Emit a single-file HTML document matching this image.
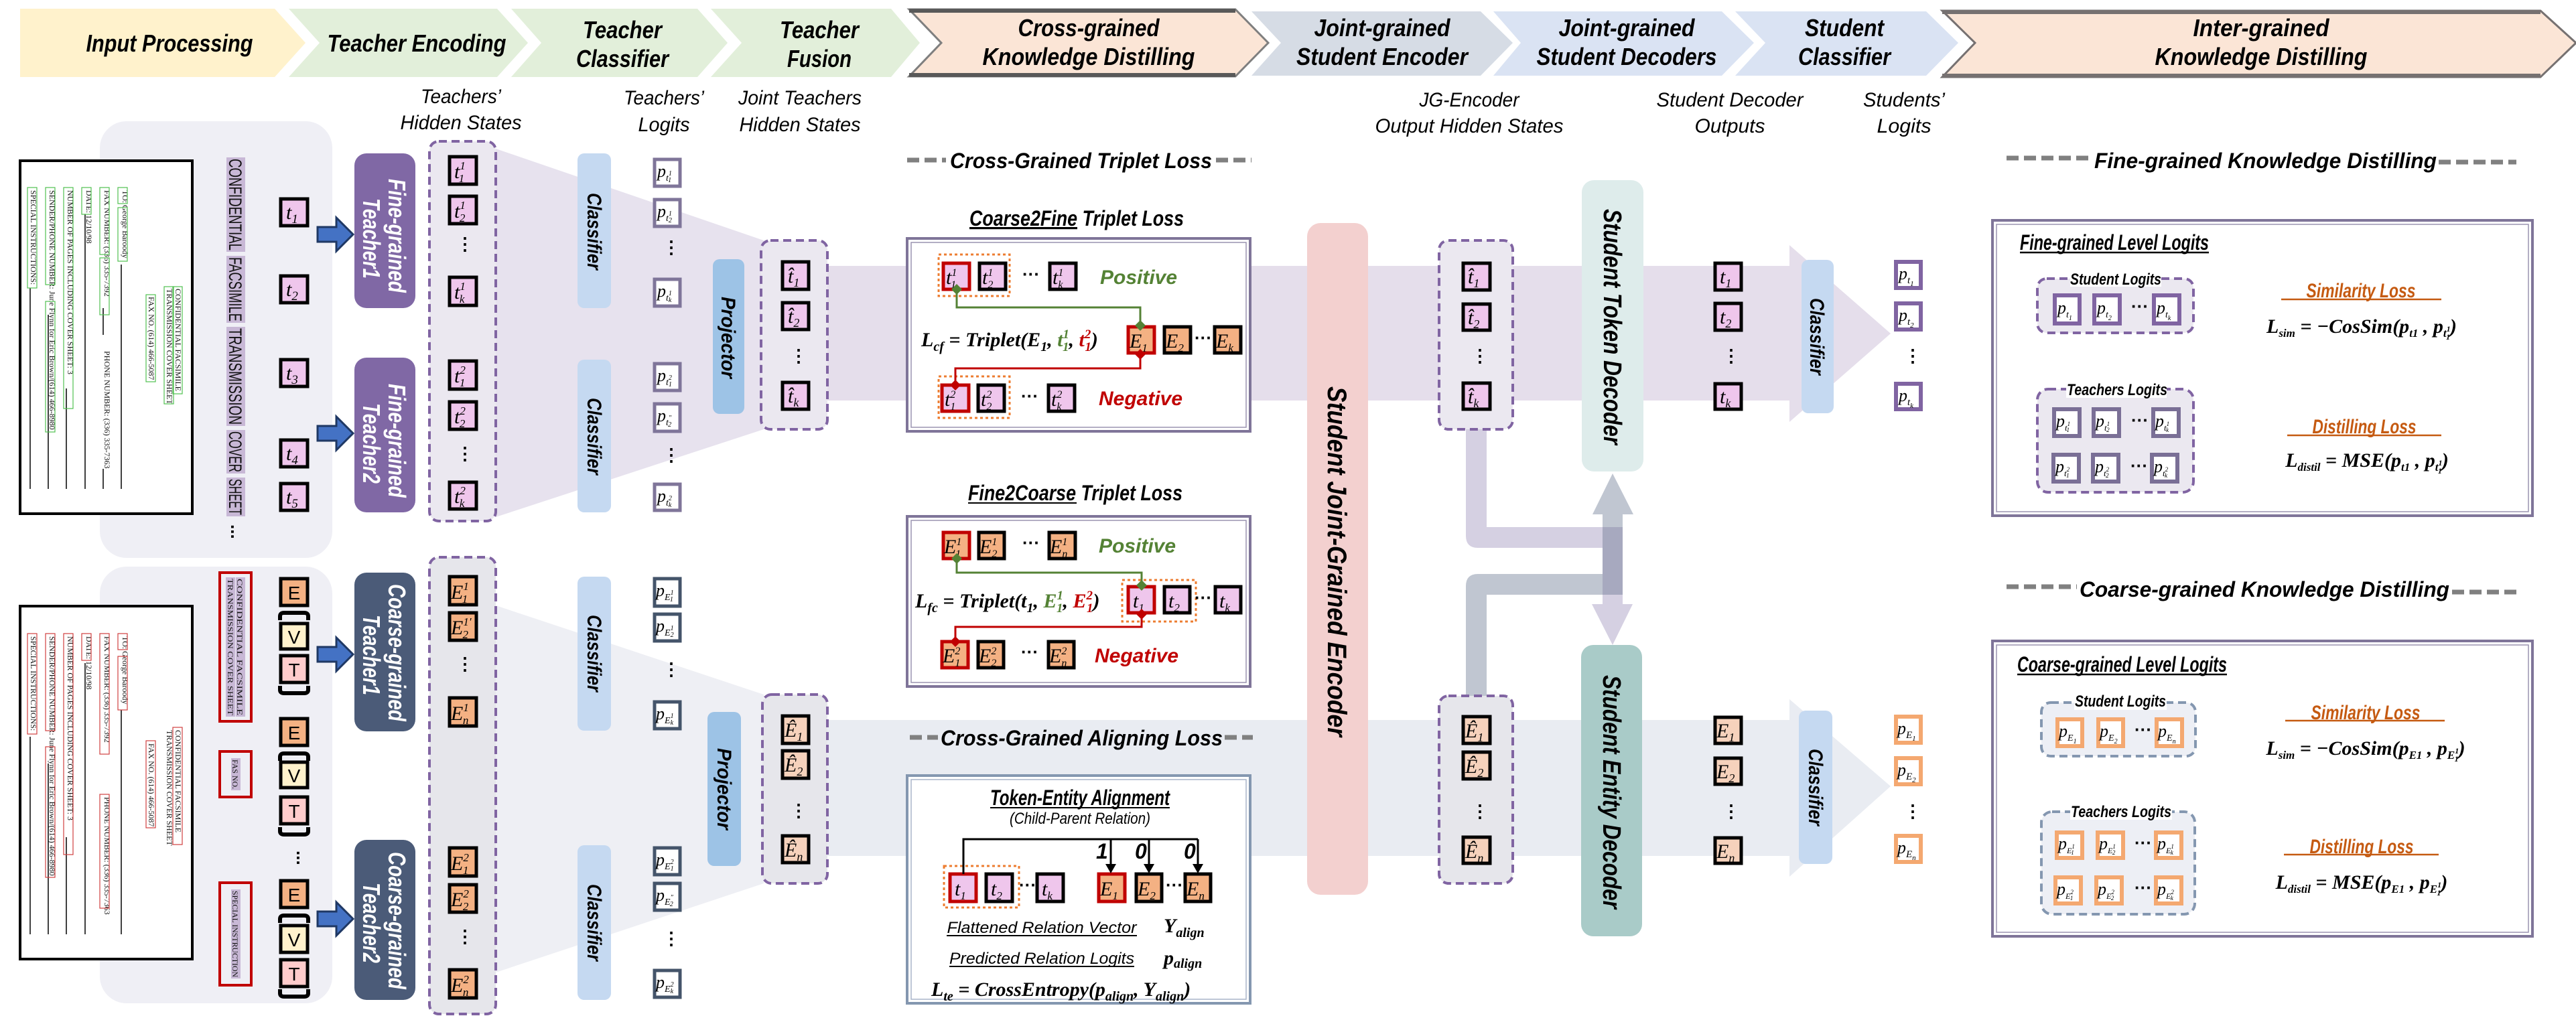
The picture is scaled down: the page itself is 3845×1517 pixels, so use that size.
<!DOCTYPE html>
<html><head><meta charset="utf-8"><style>
html,body{margin:0;padding:0;background:#fff}
svg{display:block}
.bn{font-family:"Liberation Sans",sans-serif;font-weight:bold;font-style:italic;font-size:36px;fill:#000}
.lb{font-family:"Liberation Sans",sans-serif;font-style:italic;font-size:30px;fill:#000}
.m{font-family:"Liberation Serif",serif;font-style:italic;font-size:30px;fill:#000}
.mb{font-family:"Liberation Serif",serif;font-style:italic;font-weight:bold;font-size:30px;fill:#000}
.tb{fill:#efc6ec;stroke:#000;stroke-width:5}
.tr{fill:#efc6ec;stroke:#c00000;stroke-width:5}
.eb{fill:#f4b183;stroke:#000;stroke-width:5}
.er{fill:#f4b183;stroke:#c00000;stroke-width:5}
.eh{fill:#f6d2bc;stroke:#000;stroke-width:5}
.lf{fill:#fff;stroke:#7f7599;stroke-width:5}
.lc{fill:#fff;stroke:#44546a;stroke-width:5}
.sp{fill:#fff;stroke:#8064a2;stroke-width:6}
.so{fill:#fff;stroke:#f4a870;stroke-width:6}
.tp{fill:#fff;stroke:#7a6f96;stroke-width:6}
.dash{fill:#ebe8f0;stroke:#8064a2;stroke-width:4;stroke-dasharray:12 7}
.dash2{fill:#e6e6eb;stroke:#8064a2;stroke-width:4;stroke-dasharray:12 7}
.vt{font-family:"Liberation Sans",sans-serif;font-weight:bold;font-style:italic;fill:#000}
.wt{font-family:"Liberation Sans",sans-serif;font-weight:bold;font-style:italic;fill:#fff;font-size:36px}
.dots{font-family:"Liberation Sans",sans-serif;font-weight:bold;font-size:26px;fill:#000}
.doc{font-family:"Liberation Serif",serif;font-size:12px;fill:#111}
.tt{font-family:"Liberation Sans",sans-serif;font-weight:bold;font-style:italic;font-size:32px;fill:#000}
.gl{stroke:#808080;stroke-width:7;stroke-dasharray:18 8}
.pos{font-family:"Liberation Sans",sans-serif;font-weight:bold;font-style:italic;font-size:30px;fill:#548235}
.neg{font-family:"Liberation Sans",sans-serif;font-weight:bold;font-style:italic;font-size:30px;fill:#c00000}
.or{font-family:"Liberation Sans",sans-serif;font-weight:bold;font-style:italic;font-size:30px;fill:#c55a11}
.sm{font-family:"Liberation Sans",sans-serif;font-style:italic;font-size:24px;fill:#000}
.pl{font-family:"Liberation Serif",serif;font-style:italic;font-size:26px;fill:#000}
</style></head><body>
<svg width="3845" height="1517" viewBox="0 0 3845 1517" xmlns="http://www.w3.org/2000/svg">
<!-- Banner -->
<polygon points="30,13 410,13 456,64 410,115 30,115" fill="#fff2cc"/>
<polygon points="431,13 742,13 788,64 742,115 431,115 477,64" fill="#e2efda"/>
<polygon points="763,13 1041,13 1086,64 1041,115 763,115 808,64" fill="#e2efda"/>
<polygon points="1061,13 1330,13 1373,64 1330,115 1061,115 1107,64" fill="#e2efda"/>
<polygon points="1357,14 1844,14 1893,64 1844,114 1357,114 1405,64" fill="#fbe5d6" stroke="#7f7f7f" stroke-width="3"/>
<line x1="1357" y1="16" x2="1844" y2="16" stroke="#595959" stroke-width="6"/>
<line x1="1357" y1="112" x2="1844" y2="112" stroke="#595959" stroke-width="6"/>
<polygon points="1868,17 2210,17 2258,64 2210,113 1868,113 1912,64" fill="#d6dce5"/>
<polygon points="2229,17 2570,17 2618,64 2570,113 2229,113 2270,64" fill="#dae3f3"/>
<polygon points="2590,17 2875,17 2923,64 2875,113 2590,113 2635,64" fill="#dae3f3"/>
<polygon points="2899,16 3792,16 3845,64 3792,115 2899,115 2948,64" fill="#fbe5d6" stroke="#767171" stroke-width="3"/>
<line x1="2899" y1="18" x2="3792" y2="18" stroke="#767171" stroke-width="6"/>
<line x1="2899" y1="113" x2="3792" y2="113" stroke="#767171" stroke-width="6"/>

<text class="bn" x="253" y="77" text-anchor="middle" textLength="249" lengthAdjust="spacingAndGlyphs">Input Processing</text>
<text class="bn" x="622" y="77" text-anchor="middle" textLength="267" lengthAdjust="spacingAndGlyphs">Teacher Encoding</text>
<text class="bn" x="929" y="57" text-anchor="middle" textLength="118" lengthAdjust="spacingAndGlyphs">Teacher</text>
<text class="bn" x="929" y="100" text-anchor="middle" textLength="138" lengthAdjust="spacingAndGlyphs">Classifier</text>
<text class="bn" x="1223" y="57" text-anchor="middle" textLength="118" lengthAdjust="spacingAndGlyphs">Teacher</text>
<text class="bn" x="1223" y="100" text-anchor="middle" textLength="96" lengthAdjust="spacingAndGlyphs">Fusion</text>
<text class="bn" x="1625" y="54" text-anchor="middle" textLength="211" lengthAdjust="spacingAndGlyphs">Cross-grained</text>
<text class="bn" x="1625" y="97" text-anchor="middle" textLength="317" lengthAdjust="spacingAndGlyphs">Knowledge Distilling</text>
<text class="bn" x="2063" y="54" text-anchor="middle" textLength="203" lengthAdjust="spacingAndGlyphs">Joint-grained</text>
<text class="bn" x="2063" y="97" text-anchor="middle" textLength="256" lengthAdjust="spacingAndGlyphs">Student Encoder</text>
<text class="bn" x="2428" y="54" text-anchor="middle" textLength="203" lengthAdjust="spacingAndGlyphs">Joint-grained</text>
<text class="bn" x="2428" y="97" text-anchor="middle" textLength="269" lengthAdjust="spacingAndGlyphs">Student Decoders</text>
<text class="bn" x="2753" y="54" text-anchor="middle" textLength="118" lengthAdjust="spacingAndGlyphs">Student</text>
<text class="bn" x="2753" y="97" text-anchor="middle" textLength="138" lengthAdjust="spacingAndGlyphs">Classifier</text>
<text class="bn" x="3375" y="54" text-anchor="middle" textLength="203" lengthAdjust="spacingAndGlyphs">Inter-grained</text>
<text class="bn" x="3375" y="97" text-anchor="middle" textLength="317" lengthAdjust="spacingAndGlyphs">Knowledge Distilling</text>

<!-- column labels -->
<text class="lb" x="688" y="154" text-anchor="middle" textLength="120" lengthAdjust="spacingAndGlyphs">Teachers’</text>
<text class="lb" x="688" y="193" text-anchor="middle" textLength="181" lengthAdjust="spacingAndGlyphs">Hidden States</text>
<text class="lb" x="991" y="156" text-anchor="middle" textLength="120" lengthAdjust="spacingAndGlyphs">Teachers’</text>
<text class="lb" x="991" y="196" text-anchor="middle" textLength="77" lengthAdjust="spacingAndGlyphs">Logits</text>
<text class="lb" x="1194" y="156" text-anchor="middle" textLength="184" lengthAdjust="spacingAndGlyphs">Joint Teachers</text>
<text class="lb" x="1194" y="196" text-anchor="middle" textLength="181" lengthAdjust="spacingAndGlyphs">Hidden States</text>
<text class="lb" x="2193" y="159" text-anchor="middle" textLength="149" lengthAdjust="spacingAndGlyphs">JG-Encoder</text>
<text class="lb" x="2193" y="198" text-anchor="middle" textLength="281" lengthAdjust="spacingAndGlyphs">Output Hidden States</text>
<text class="lb" x="2582" y="159" text-anchor="middle" textLength="219" lengthAdjust="spacingAndGlyphs">Student Decoder</text>
<text class="lb" x="2582" y="198" text-anchor="middle" textLength="105" lengthAdjust="spacingAndGlyphs">Outputs</text>
<text class="lb" x="2842" y="159" text-anchor="middle" textLength="122" lengthAdjust="spacingAndGlyphs">Students’</text>
<text class="lb" x="2842" y="198" text-anchor="middle" textLength="81" lengthAdjust="spacingAndGlyphs">Logits</text>

<!-- funnels and bands -->
<polygon points="740,222 1140,359 1140,641 740,772" fill="#e7e2ee"/>
<rect x="1235" y="397" width="1440" height="201" fill="#e5deeb"/>
<polygon points="2671,366 2822,498 2671,630" fill="#e5deeb"/>
<polygon points="740,904 1140,1037 1140,1319 740,1452" fill="#eeeff4"/>
<rect x="1235" y="1075" width="1440" height="203" fill="#e9ecf2"/>
<polygon points="2671,1044 2822,1174 2671,1309" fill="#e9ecf2"/>

<!-- input panels -->
<rect x="149" y="181" width="347" height="652" rx="40" fill="#efeff5"/>
<rect x="149" y="846" width="347" height="652" rx="40" fill="#efeff5"/>

<!-- documents -->
<g>
<rect x="30" y="240" width="257" height="527" fill="#fff" stroke="#000" stroke-width="4"/>
<g class="doc">
<text transform="translate(183,284) rotate(90)">TO: George Baroody</text>
<text transform="translate(156,284) rotate(90)">FAX NUMBER: (336) 335-7392</text>
<text transform="translate(156,524) rotate(90)">PHONE NUMBER: (336) 335-7363</text>
<text transform="translate(129,284) rotate(90)">DATE: 12/10/98</text>
<text transform="translate(101,284) rotate(90)">NUMBER OF PAGES INCLUDING COVER SHEET: 3</text>
<text transform="translate(74,284) rotate(90)">SENDER/PHONE NUMBER: June Flynn for Eric Brown/(614) 466-8980</text>
<text transform="translate(46,284) rotate(90)">SPECIAL INSTRUCTIONS:</text>
<text transform="translate(262,431) rotate(90)">CONFIDENTIAL FACSIMILE</text>
<text transform="translate(249,431) rotate(90)">TRANSMISSION COVER SHEET</text>
<text transform="translate(222,443) rotate(90)">FAX NO. (614) 466-5087</text>
</g>
<g stroke="#000" stroke-width="1.5">
<line x1="181" y1="395" x2="181" y2="730"/><line x1="154" y1="460" x2="154" y2="500"/><line x1="154" y1="700" x2="154" y2="730"/>
<line x1="127" y1="320" x2="127" y2="730"/><line x1="99" y1="580" x2="99" y2="730"/><line x1="72" y1="470" x2="72" y2="730"/><line x1="45" y1="430" x2="45" y2="730"/>
</g>
<g fill="none" stroke="#50c050" stroke-width="1.2">
<rect x="176" y="280" width="14" height="24"/><rect x="176" y="310" width="14" height="80"/>
<rect x="149" y="280" width="14" height="100"/><rect x="149" y="385" width="14" height="85"/>
<rect x="122" y="280" width="14" height="40"/><rect x="95" y="280" width="14" height="330"/>
<rect x="68" y="280" width="14" height="145"/><rect x="68" y="450" width="14" height="195"/>
<rect x="41" y="280" width="14" height="150"/><rect x="258" y="428" width="14" height="160"/><rect x="245" y="428" width="14" height="175"/><rect x="218" y="440" width="14" height="130"/>
</g>
</g>
<g>
<rect x="30" y="905" width="257" height="527" fill="#fff" stroke="#000" stroke-width="4"/>
<g class="doc">
<text transform="translate(183,950) rotate(90)">TO: George Baroody</text>
<text transform="translate(156,950) rotate(90)">FAX NUMBER: (336) 335-7392</text>
<text transform="translate(156,1190) rotate(90)">PHONE NUMBER: (336) 335-7363</text>
<text transform="translate(129,950) rotate(90)">DATE: 12/10/98</text>
<text transform="translate(101,950) rotate(90)">NUMBER OF PAGES INCLUDING COVER SHEET: 3</text>
<text transform="translate(74,950) rotate(90)">SENDER/PHONE NUMBER: June Flynn for Eric Brown/(614) 466-8980</text>
<text transform="translate(46,950) rotate(90)">SPECIAL INSTRUCTIONS:</text>
<text transform="translate(262,1090) rotate(90)">CONFIDENTIAL FACSIMILE</text>
<text transform="translate(249,1090) rotate(90)">TRANSMISSION COVER SHEET</text>
<text transform="translate(222,1110) rotate(90)">FAX NO. (614) 466-5087</text>
</g>
<g stroke="#000" stroke-width="1.5">
<line x1="181" y1="1060" x2="181" y2="1395"/><line x1="127" y1="990" x2="127" y2="1395"/><line x1="99" y1="1250" x2="99" y2="1395"/><line x1="72" y1="1140" x2="72" y2="1395"/><line x1="45" y1="1100" x2="45" y2="1395"/>
</g>
<g fill="none" stroke="#d04040" stroke-width="1.2">
<rect x="176" y="946" width="14" height="24"/><rect x="176" y="980" width="14" height="80"/>
<rect x="149" y="946" width="14" height="180"/><rect x="149" y="1186" width="14" height="170"/>
<rect x="122" y="946" width="14" height="40"/><rect x="95" y="946" width="14" height="330"/>
<rect x="68" y="946" width="14" height="145"/><rect x="68" y="1115" width="14" height="195"/>
<rect x="41" y="946" width="14" height="150"/><rect x="258" y="1086" width="14" height="175"/><rect x="218" y="1106" width="14" height="130"/>
</g>
</g>

<!-- vertical token text top -->
<g fill="#c8b8d6">
<rect x="338" y="235" width="28" height="141"/><rect x="338" y="382" width="28" height="100"/><rect x="338" y="488" width="28" height="148"/><rect x="338" y="642" width="28" height="65"/><rect x="338" y="713" width="28" height="58"/>
</g>
<g font-family="Liberation Sans, sans-serif" font-size="27" fill="#111">
<text transform="translate(342,237) rotate(90)" textLength="137" lengthAdjust="spacingAndGlyphs">CONFIDENTIAL</text>
<text transform="translate(342,384) rotate(90)" textLength="96" lengthAdjust="spacingAndGlyphs">FACSIMILE</text>
<text transform="translate(342,490) rotate(90)" textLength="144" lengthAdjust="spacingAndGlyphs">TRANSMISSION</text>
<text transform="translate(342,644) rotate(90)" textLength="61" lengthAdjust="spacingAndGlyphs">COVER</text>
<text transform="translate(342,715) rotate(90)" textLength="54" lengthAdjust="spacingAndGlyphs">SHEET</text>
</g>
<text class="dots" transform="translate(345,783) rotate(90)">...</text>

<!-- red boxes lower -->
<g fill="none" stroke="#c00000" stroke-width="4">
<rect x="328" y="855" width="47" height="222"/><rect x="328" y="1122" width="47" height="68"/><rect x="328" y="1318" width="47" height="153"/>
</g>
<g fill="#c8b8d6"><rect x="337" y="862" width="14" height="208"/><rect x="352" y="862" width="14" height="208"/><rect x="345" y="1132" width="14" height="48"/><rect x="345" y="1328" width="14" height="133"/></g>
<g class="doc" font-size="13">
<text transform="translate(354,864) rotate(90)" textLength="204" lengthAdjust="spacingAndGlyphs">CONFIDENTIAL FACSIMILE</text>
<text transform="translate(340,864) rotate(90)" textLength="204" lengthAdjust="spacingAndGlyphs">TRANSMISSION COVER SHEET</text>
<text transform="translate(347,1134) rotate(90)" textLength="44" lengthAdjust="spacingAndGlyphs">FAS NO.</text>
<text transform="translate(347,1330) rotate(90)" textLength="129" lengthAdjust="spacingAndGlyphs">SPECIAL INSTRUCTION</text>
</g>

<!-- t tokens -->
<g>
<rect class="tb" x="419" y="297" width="40" height="40"/><text class="m" x="427" y="327">t<tspan font-size="19" dy="6">1</tspan></text>
<rect class="tb" x="419" y="412" width="40" height="40"/><text class="m" x="427" y="442">t<tspan font-size="19" dy="6">2</tspan></text>
<rect class="tb" x="419" y="537" width="40" height="40"/><text class="m" x="427" y="567">t<tspan font-size="19" dy="6">3</tspan></text>
<rect class="tb" x="419" y="657" width="40" height="40"/><text class="m" x="427" y="687">t<tspan font-size="19" dy="6">4</tspan></text>
<rect class="tb" x="419" y="722" width="40" height="40"/><text class="m" x="427" y="752">t<tspan font-size="19" dy="6">5</tspan></text>
</g>
<!-- EVT -->
<g font-family="Liberation Sans, sans-serif" font-size="28" text-anchor="middle">
<rect class="eb" x="419" y="864" width="40" height="40"/><text x="439" y="895">E</text>
<rect x="419" y="931" width="40" height="38" fill="#fff2cc" stroke="#000" stroke-width="5"/><text x="439" y="961">V</text>
<rect x="419" y="979" width="40" height="40" fill="#ffcccc" stroke="#000" stroke-width="5"/><text x="439" y="1010">T</text>
<rect class="eb" x="419" y="1073" width="40" height="40"/><text x="439" y="1104">E</text>
<rect x="419" y="1138" width="40" height="38" fill="#fff2cc" stroke="#000" stroke-width="5"/><text x="439" y="1168">V</text>
<rect x="419" y="1190" width="40" height="40" fill="#ffcccc" stroke="#000" stroke-width="5"/><text x="439" y="1221">T</text>
<rect class="eb" x="419" y="1315" width="40" height="40"/><text x="439" y="1346">E</text>
<rect x="419" y="1382" width="40" height="40" fill="#fff2cc" stroke="#000" stroke-width="5"/><text x="439" y="1413">V</text>
<rect x="419" y="1433" width="40" height="40" fill="#ffcccc" stroke="#000" stroke-width="5"/><text x="439" y="1464">T</text>
</g>
<g fill="none" stroke="#000" stroke-width="6">
<path d="M418,926 L418,920 Q418,915 424,915 L454,915 Q460,915 460,920 L460,926"/>
<path d="M418,1024 L418,1030 Q418,1035 424,1035 L454,1035 Q460,1035 460,1030 L460,1024"/>
<path d="M418,1136 L418,1130 Q418,1125 424,1125 L454,1125 Q460,1125 460,1130 L460,1136"/>
<path d="M418,1235 L418,1241 Q418,1246 424,1246 L454,1246 Q460,1246 460,1241 L460,1235"/>
<path d="M418,1378 L418,1372 Q418,1367 424,1367 L454,1367 Q460,1367 460,1372 L460,1378"/>
<path d="M418,1477 L418,1483 Q418,1488 424,1488 L454,1488 Q460,1488 460,1483 L460,1477"/>
</g>
<text class="dots" transform="translate(443,1270) rotate(90)">...</text>

<!-- blue arrows -->
<g fill="#4472c4" stroke="#1f3864" stroke-width="3">
<polygon points="474,339 502,339 502,325 527,350 502,375 502,361 474,361"/>
<polygon points="474,636 502,636 502,622 527,647 502,672 502,658 474,658"/>
<polygon points="474,966 502,966 502,952 527,977 502,1002 502,988 474,988"/>
<polygon points="474,1361 502,1361 502,1347 527,1372 502,1397 502,1383 474,1383"/>
</g>

<!-- teacher boxes -->
<rect x="529" y="229" width="91" height="231" rx="18" fill="#8068a5"/>
<rect x="529" y="534" width="91" height="231" rx="18" fill="#8068a5"/>
<rect x="529" y="855" width="91" height="237" rx="18" fill="#4b5b78"/>
<rect x="529" y="1254" width="91" height="239" rx="18" fill="#4b5b78"/>
<text class="wt" transform="translate(580,267) rotate(90)" textLength="170" lengthAdjust="spacingAndGlyphs">Fine-grained</text>
<text class="wt" transform="translate(542,296) rotate(90)" textLength="120" lengthAdjust="spacingAndGlyphs">Teacher1</text>
<text class="wt" transform="translate(580,573) rotate(90)" textLength="170" lengthAdjust="spacingAndGlyphs">Fine-grained</text>
<text class="wt" transform="translate(542,602) rotate(90)" textLength="120" lengthAdjust="spacingAndGlyphs">Teacher2</text>
<text class="wt" transform="translate(580,872) rotate(90)" textLength="205" lengthAdjust="spacingAndGlyphs">Coarse-grained</text>
<text class="wt" transform="translate(542,918) rotate(90)" textLength="120" lengthAdjust="spacingAndGlyphs">Teacher1</text>
<text class="wt" transform="translate(580,1272) rotate(90)" textLength="205" lengthAdjust="spacingAndGlyphs">Coarse-grained</text>
<text class="wt" transform="translate(542,1318) rotate(90)" textLength="120" lengthAdjust="spacingAndGlyphs">Teacher2</text>

<!-- hidden state columns -->
<rect class="dash" x="641" y="211" width="99" height="567" rx="14"/>
<rect class="dash2" x="641" y="832" width="99" height="682" rx="14"/>
<g>
<rect class="tb" x="671" y="234" width="40" height="41"/><text class="m" x="678" y="266">t<tspan font-size="17" dy="-13">1</tspan><tspan font-size="17" dx="-9" dy="19">1</tspan></text>
<rect class="tb" x="671" y="293" width="40" height="41"/><text class="m" x="678" y="325">t<tspan font-size="17" dy="-13">1</tspan><tspan font-size="17" dx="-9" dy="19">2</tspan></text>
<text class="dots" x="681" y="373">⋮</text>
<rect class="tb" x="671" y="414" width="40" height="42"/><text class="m" x="678" y="446">t<tspan font-size="17" dy="-13">1</tspan><tspan font-size="17" dx="-9" dy="19">k</tspan></text>
<rect class="tb" x="671" y="539" width="40" height="42"/><text class="m" x="678" y="571">t<tspan font-size="17" dy="-13">2</tspan><tspan font-size="17" dx="-9" dy="19">1</tspan></text>
<rect class="tb" x="671" y="600" width="40" height="41"/><text class="m" x="678" y="632">t<tspan font-size="17" dy="-13">2</tspan><tspan font-size="17" dx="-9" dy="19">2</tspan></text>
<text class="dots" x="681" y="686">⋮</text>
<rect class="tb" x="671" y="720" width="40" height="40"/><text class="m" x="678" y="751">t<tspan font-size="17" dy="-13">2</tspan><tspan font-size="17" dx="-9" dy="19">k</tspan></text>
</g>
<g>
<rect class="eb" x="671" y="861" width="40" height="42"/><text class="m" x="673" y="894">E<tspan font-size="17" dy="-13">1</tspan><tspan font-size="17" dx="-9" dy="19">1</tspan></text>
<rect class="eb" x="671" y="915" width="40" height="41"/><text class="m" x="673" y="947">E<tspan font-size="17" dy="-13">1′</tspan><tspan font-size="17" dx="-13" dy="19">2</tspan></text>
<text class="dots" x="681" y="1000">⋮</text>
<rect class="eb" x="671" y="1042" width="40" height="42"/><text class="m" x="673" y="1075">E<tspan font-size="17" dy="-13">1</tspan><tspan font-size="17" dx="-9" dy="19">n</tspan></text>
<rect class="eb" x="671" y="1266" width="40" height="42"/><text class="m" x="673" y="1299">E<tspan font-size="17" dy="-13">2</tspan><tspan font-size="17" dx="-9" dy="19">1</tspan></text>
<rect class="eb" x="671" y="1321" width="40" height="41"/><text class="m" x="673" y="1353">E<tspan font-size="17" dy="-13">2</tspan><tspan font-size="17" dx="-9" dy="19">2</tspan></text>
<text class="dots" x="681" y="1407">⋮</text>
<rect class="eb" x="671" y="1448" width="40" height="42"/><text class="m" x="673" y="1481">E<tspan font-size="17" dy="-13">2</tspan><tspan font-size="17" dx="-9" dy="19">n</tspan></text>
</g>

<!-- classifiers -->
<g fill="#c5d9f1">
<rect x="862" y="229" width="50" height="231" rx="10"/><rect x="862" y="537" width="50" height="228" rx="10"/>
<rect x="862" y="861" width="50" height="230" rx="10"/><rect x="862" y="1262" width="50" height="231" rx="10"/>
</g>
<g class="vt" font-size="30">
<text transform="translate(877,288) rotate(90)" textLength="115" lengthAdjust="spacingAndGlyphs">Classifier</text>
<text transform="translate(877,594) rotate(90)" textLength="115" lengthAdjust="spacingAndGlyphs">Classifier</text>
<text transform="translate(877,918) rotate(90)" textLength="115" lengthAdjust="spacingAndGlyphs">Classifier</text>
<text transform="translate(877,1320) rotate(90)" textLength="115" lengthAdjust="spacingAndGlyphs">Classifier</text>
</g>

<!-- teacher logits -->
<g>
<rect class="lf" x="977" y="238" width="38" height="40"/><text class="pl" x="981" y="264">p<tspan font-size="14" dy="6">t</tspan><tspan font-size="10" dy="-8">1</tspan><tspan font-size="10" dx="-5" dy="10">1</tspan></text>
<rect class="lf" x="977" y="298" width="38" height="40"/><text class="pl" x="981" y="324">p<tspan font-size="14" dy="6">t</tspan><tspan font-size="10" dy="-8">1</tspan><tspan font-size="10" dx="-5" dy="10">2</tspan></text>
<text class="dots" x="989" y="378">⋮</text>
<rect class="lf" x="977" y="417" width="38" height="40"/><text class="pl" x="981" y="443">p<tspan font-size="14" dy="6">t</tspan><tspan font-size="10" dy="-8">1</tspan><tspan font-size="10" dx="-5" dy="10">k</tspan></text>
<rect class="lf" x="977" y="543" width="38" height="40"/><text class="pl" x="981" y="569">p<tspan font-size="14" dy="6">t</tspan><tspan font-size="10" dy="-8">2</tspan><tspan font-size="10" dx="-5" dy="10">1</tspan></text>
<rect class="lf" x="977" y="603" width="38" height="41"/><text class="pl" x="981" y="629">p<tspan font-size="14" dy="6">t</tspan><tspan font-size="10" dy="-8">″</tspan><tspan font-size="10" dx="-5" dy="10">2</tspan></text>
<text class="dots" x="989" y="688">⋮</text>
<rect class="lf" x="977" y="723" width="38" height="39"/><text class="pl" x="981" y="749">p<tspan font-size="14" dy="6">t</tspan><tspan font-size="10" dy="-8">2</tspan><tspan font-size="10" dx="-5" dy="10">k</tspan></text>
</g>
<g>
<rect class="lc" x="977" y="864" width="38" height="41"/><text class="pl" x="979" y="890">p<tspan font-size="14" dy="6">E</tspan><tspan font-size="10" dy="-8">1</tspan><tspan font-size="10" dx="-5" dy="10">1</tspan></text>
<rect class="lc" x="977" y="917" width="38" height="40"/><text class="pl" x="979" y="943">p<tspan font-size="14" dy="6">E</tspan><tspan font-size="10" dy="-8">1</tspan><tspan font-size="10" dx="-5" dy="10">2</tspan></text>
<text class="dots" x="989" y="1008">⋮</text>
<rect class="lc" x="977" y="1048" width="38" height="40"/><text class="pl" x="979" y="1074">p<tspan font-size="14" dy="6">E</tspan><tspan font-size="10" dy="-8">1</tspan><tspan font-size="10" dx="-5" dy="10">k</tspan></text>
<rect class="lc" x="977" y="1266" width="38" height="40"/><text class="pl" x="979" y="1292">p<tspan font-size="14" dy="6">E</tspan><tspan font-size="10" dy="-8">2</tspan><tspan font-size="10" dx="-5" dy="10">1</tspan></text>
<rect class="lc" x="977" y="1319" width="38" height="40"/><text class="pl" x="979" y="1345">p<tspan font-size="14" dy="6">E</tspan><tspan font-size="10" dy="-8">″</tspan><tspan font-size="10" dx="-5" dy="10">2</tspan></text>
<text class="dots" x="989" y="1410">⋮</text>
<rect class="lc" x="977" y="1449" width="38" height="40"/><text class="pl" x="979" y="1475">p<tspan font-size="14" dy="6">E</tspan><tspan font-size="10" dy="-8">2</tspan><tspan font-size="10" dx="-5" dy="10">k</tspan></text>
</g>

<!-- projectors -->
<rect x="1064" y="387" width="47" height="231" rx="10" fill="#9dc3e6"/>
<rect x="1056" y="1063" width="50" height="230" rx="10" fill="#9dc3e6"/>
<text class="vt" font-size="30" transform="translate(1077,443) rotate(90)" textLength="122" lengthAdjust="spacingAndGlyphs">Projector</text>
<text class="vt" font-size="30" transform="translate(1071,1117) rotate(90)" textLength="122" lengthAdjust="spacingAndGlyphs">Projector</text>

<!-- fusion columns -->
<rect class="dash" x="1136" y="359" width="99" height="282" rx="14"/>
<rect class="dash2" x="1138" y="1037" width="97" height="282" rx="14"/>
<g>
<rect class="tb" x="1168" y="391" width="39" height="41"/><text class="m" x="1176" y="422">t̂<tspan font-size="18" dy="6">1</tspan></text>
<rect class="tb" x="1168" y="452" width="39" height="40"/><text class="m" x="1176" y="482">t̂<tspan font-size="18" dy="6">2</tspan></text>
<text class="dots" x="1179" y="540">⋮</text>
<rect class="tb" x="1168" y="571" width="39" height="40"/><text class="m" x="1176" y="601">t̂<tspan font-size="18" dy="6">k</tspan></text>
<rect class="eh" x="1168" y="1069" width="39" height="41"/><text class="m" x="1171" y="1100">Ê<tspan font-size="18" dy="6">1</tspan></text>
<rect class="eh" x="1168" y="1121" width="39" height="41"/><text class="m" x="1171" y="1152">Ê<tspan font-size="18" dy="6">2</tspan></text>
<text class="dots" x="1179" y="1219">⋮</text>
<rect class="eh" x="1168" y="1248" width="39" height="40"/><text class="m" x="1171" y="1279">Ê<tspan font-size="18" dy="6">n</tspan></text>
</g>

<!-- Cross-grained section -->
<line class="gl" x1="1354" y1="239" x2="1412" y2="239"/>
<text class="tt" x="1418" y="251" textLength="391" lengthAdjust="spacingAndGlyphs">Cross-Grained Triplet Loss</text>
<line class="gl" x1="1815" y1="239" x2="1868" y2="239"/>
<text class="tt" x="1607" y="337" font-size="28" text-anchor="middle" textLength="320" lengthAdjust="spacingAndGlyphs"><tspan text-decoration="underline">Coarse2Fine</tspan> Triplet Loss</text>
<line x1="1447" y1="341" x2="1608" y2="341" stroke="#000" stroke-width="2"/>

<rect x="1354" y="356" width="512" height="288" fill="#fff" stroke="#7f7599" stroke-width="4"/>
<rect x="1360" y="362" width="500" height="276" fill="none" stroke="#9a93b0" stroke-width="1.5"/>
<rect x="1401" y="380" width="106" height="62" fill="none" stroke="#ed7d31" stroke-width="3" stroke-dasharray="4 4"/>
<rect class="tr" x="1408" y="393" width="39" height="39"/><text class="m" x="1412" y="424" font-size="28">t<tspan font-size="16" dy="-12">1</tspan><tspan font-size="16" dx="-8" dy="18">1</tspan></text>
<rect class="tb" x="1462" y="393" width="39" height="39"/><text class="m" x="1466" y="424" font-size="28">t<tspan font-size="16" dy="-12">1</tspan><tspan font-size="16" dx="-8" dy="18">2</tspan></text>
<text class="dots" x="1526" y="418" font-size="18">···</text>
<rect class="tb" x="1567" y="393" width="39" height="39"/><text class="m" x="1571" y="424" font-size="28">t<tspan font-size="16" dy="-12">1</tspan><tspan font-size="16" dx="-8" dy="18">k</tspan></text>
<text class="pos" x="1642" y="424">Positive</text>
<text class="mb" x="1375" y="517" font-size="32">L<tspan font-size="20" dy="7">cf</tspan><tspan dy="-7"> = Triplet(E</tspan><tspan font-size="20" dy="7">1</tspan><tspan dy="-7">, </tspan><tspan fill="#548235">t<tspan font-size="19" dy="-12">1</tspan><tspan font-size="19" dx="-9" dy="19">1</tspan></tspan><tspan dy="-7">, </tspan><tspan fill="#c00000">t<tspan font-size="19" dy="-12">2</tspan><tspan font-size="19" dx="-9" dy="19">1</tspan></tspan><tspan dy="-7">)</tspan></text>
<rect class="er" x="1684" y="488" width="39" height="39"/><text class="m" x="1686" y="519" font-size="28">E<tspan font-size="17" dy="6">1</tspan></text>
<rect class="eb" x="1738" y="488" width="39" height="39"/><text class="m" x="1740" y="519" font-size="28">E<tspan font-size="17" dy="6">2</tspan></text>
<text class="dots" x="1783" y="513" font-size="18">···</text>
<rect class="eb" x="1813" y="488" width="39" height="39"/><text class="m" x="1815" y="519" font-size="28">E<tspan font-size="17" dy="6">k</tspan></text>
<rect x="1401" y="562" width="106" height="62" fill="none" stroke="#ed7d31" stroke-width="3" stroke-dasharray="4 4"/>
<rect class="tr" x="1406" y="575" width="40" height="39"/><text class="m" x="1410" y="606" font-size="28">t<tspan font-size="16" dy="-12">2</tspan><tspan font-size="16" dx="-8" dy="18">1</tspan></text>
<rect class="tb" x="1460" y="575" width="39" height="39"/><text class="m" x="1464" y="606" font-size="28">t<tspan font-size="16" dy="-12">2</tspan><tspan font-size="16" dx="-8" dy="18">2</tspan></text>
<text class="dots" x="1524" y="600" font-size="18">···</text>
<rect class="tb" x="1565" y="575" width="39" height="39"/><text class="m" x="1569" y="606" font-size="28">t<tspan font-size="16" dy="-12">2</tspan><tspan font-size="16" dx="-8" dy="18">k</tspan></text>
<text class="neg" x="1640" y="605">Negative</text>
<polyline points="1428,432 1428,459 1702,459 1702,486" fill="none" stroke="#548235" stroke-width="3"/>
<polygon points="1428,424 1436,432 1428,440 1420,432" fill="#548235"/>
<polygon points="1702,478 1710,486 1702,494 1694,486" fill="#548235"/>
<polyline points="1702,529 1702,550 1426,550 1426,575" fill="none" stroke="#c00000" stroke-width="3"/>
<polygon points="1702,521 1710,529 1702,537 1694,529" fill="#c00000"/>
<polygon points="1426,567 1434,575 1426,583 1418,575" fill="#c00000"/>

<text class="tt" x="1605" y="747" font-size="28" text-anchor="middle" textLength="320" lengthAdjust="spacingAndGlyphs">Fine2Coarse Triplet Loss</text>
<line x1="1445" y1="751" x2="1607" y2="751" stroke="#000" stroke-width="2"/>
<rect x="1354" y="771" width="512" height="254" fill="#fff" stroke="#7f7599" stroke-width="4"/>
<rect x="1360" y="777" width="500" height="242" fill="none" stroke="#9a93b0" stroke-width="1.5"/>
<rect class="er" x="1408" y="795" width="39" height="39"/><text class="m" x="1409" y="826" font-size="28">E<tspan font-size="16" dy="-12">1</tspan><tspan font-size="16" dx="-8" dy="18">1</tspan></text>
<rect class="eb" x="1461" y="795" width="38" height="39"/><text class="m" x="1462" y="826" font-size="28">E<tspan font-size="16" dy="-12">1</tspan><tspan font-size="16" dx="-8" dy="18">2</tspan></text>
<text class="dots" x="1526" y="819" font-size="18">···</text>
<rect class="eb" x="1566" y="795" width="39" height="39"/><text class="m" x="1567" y="826" font-size="28">E<tspan font-size="16" dy="-12">1</tspan><tspan font-size="16" dx="-8" dy="18">n</tspan></text>
<text class="pos" x="1640" y="825">Positive</text>
<text class="mb" x="1366" y="907" font-size="32">L<tspan font-size="20" dy="7">fc</tspan><tspan dy="-7"> = Triplet(t</tspan><tspan font-size="20" dy="7">1</tspan><tspan dy="-7">, </tspan><tspan fill="#548235">E<tspan font-size="19" dy="-12">1</tspan><tspan font-size="19" dx="-9" dy="19">1</tspan></tspan><tspan dy="-7">, </tspan><tspan fill="#c00000">E<tspan font-size="19" dy="-12">2</tspan><tspan font-size="19" dx="-9" dy="19">1</tspan></tspan><tspan dy="-7">)</tspan></text>
<rect x="1675" y="866" width="110" height="62" fill="none" stroke="#ed7d31" stroke-width="3" stroke-dasharray="4 4"/>
<rect class="tr" x="1684" y="876" width="39" height="39"/><text class="m" x="1691" y="907" font-size="28">t<tspan font-size="17" dy="6">1</tspan></text>
<rect class="tb" x="1738" y="876" width="38" height="39"/><text class="m" x="1744" y="907" font-size="28">t<tspan font-size="17" dy="6">2</tspan></text>
<text class="dots" x="1783" y="901" font-size="18">···</text>
<rect class="tb" x="1814" y="876" width="38" height="39"/><text class="m" x="1820" y="907" font-size="28">t<tspan font-size="17" dy="6">k</tspan></text>
<rect class="er" x="1406" y="958" width="39" height="39"/><text class="m" x="1407" y="989" font-size="28">E<tspan font-size="16" dy="-12">2</tspan><tspan font-size="16" dx="-8" dy="18">1</tspan></text>
<rect class="eb" x="1460" y="958" width="38" height="39"/><text class="m" x="1461" y="989" font-size="28">E<tspan font-size="16" dy="-12">2</tspan><tspan font-size="16" dx="-8" dy="18">2</tspan></text>
<text class="dots" x="1524" y="982" font-size="18">···</text>
<rect class="eb" x="1565" y="958" width="38" height="39"/><text class="m" x="1566" y="989" font-size="28">E<tspan font-size="16" dy="-12">2</tspan><tspan font-size="16" dx="-8" dy="18">n</tspan></text>
<text class="neg" x="1634" y="989">Negative</text>
<polyline points="1428,834 1428,855 1704,855 1704,874" fill="none" stroke="#548235" stroke-width="3"/>
<polygon points="1428,826 1436,834 1428,842 1420,834" fill="#548235"/>
<polygon points="1704,866 1712,874 1704,882 1696,874" fill="#548235"/>
<polyline points="1704,917 1704,936 1426,936 1426,958" fill="none" stroke="#c00000" stroke-width="3"/>
<polygon points="1704,909 1712,917 1704,925 1696,917" fill="#c00000"/>
<polygon points="1426,950 1434,958 1426,966 1418,958" fill="#c00000"/>

<line class="gl" x1="1358" y1="1101" x2="1400" y2="1101"/>
<text class="tt" x="1404" y="1113" textLength="421" lengthAdjust="spacingAndGlyphs">Cross-Grained Aligning Loss</text>
<line class="gl" x1="1828" y1="1101" x2="1870" y2="1101"/>
<rect x="1354" y="1158" width="512" height="340" fill="#fff" stroke="#8497b0" stroke-width="4"/>
<rect x="1360" y="1164" width="500" height="328" fill="none" stroke="#a8b4c8" stroke-width="1.5"/>
<text class="tt" x="1612" y="1202" font-size="26" text-anchor="middle" textLength="268" lengthAdjust="spacingAndGlyphs">Token-Entity Alignment</text>
<line x1="1478" y1="1206" x2="1746" y2="1206" stroke="#000" stroke-width="2"/>
<text class="sm" x="1612" y="1230" font-size="22" text-anchor="middle" textLength="210" lengthAdjust="spacingAndGlyphs">(Child-Parent Relation)</text>
<rect x="1409" y="1293" width="112" height="62" fill="none" stroke="#ed7d31" stroke-width="3" stroke-dasharray="4 4"/>
<rect class="tr" x="1418" y="1305" width="39" height="41"/><text class="m" x="1425" y="1337" font-size="28">t<tspan font-size="17" dy="6">1</tspan></text>
<rect class="tb" x="1472" y="1305" width="39" height="41"/><text class="m" x="1479" y="1337" font-size="28">t<tspan font-size="17" dy="6">2</tspan></text>
<text class="dots" x="1521" y="1330" font-size="18">···</text>
<rect class="tb" x="1548" y="1305" width="39" height="41"/><text class="m" x="1555" y="1337" font-size="28">t<tspan font-size="17" dy="6">k</tspan></text>
<rect class="er" x="1640" y="1305" width="39" height="41"/><text class="m" x="1642" y="1337" font-size="28">E<tspan font-size="17" dy="6">1</tspan></text>
<rect class="eb" x="1696" y="1305" width="38" height="41"/><text class="m" x="1698" y="1337" font-size="28">E<tspan font-size="17" dy="6">2</tspan></text>
<text class="dots" x="1740" y="1330" font-size="18">···</text>
<rect class="eb" x="1769" y="1305" width="38" height="41"/><text class="m" x="1771" y="1337" font-size="28">E<tspan font-size="17" dy="6">n</tspan></text>
<polyline points="1438,1305 1438,1253 1788,1253" fill="none" stroke="#000" stroke-width="3"/>
<g stroke="#000" stroke-width="3"><line x1="1658" y1="1253" x2="1658" y2="1290"/><line x1="1715" y1="1253" x2="1715" y2="1290"/><line x1="1788" y1="1253" x2="1788" y2="1290"/></g>
<g fill="#000"><polygon points="1650,1290 1666,1290 1658,1304"/><polygon points="1707,1290 1723,1290 1715,1304"/><polygon points="1780,1290 1796,1290 1788,1304"/></g>
<g class="tt" font-size="24"><text x="1636" y="1282">1</text><text x="1694" y="1282">0</text><text x="1767" y="1282">0</text></g>
<text class="sm" x="1555" y="1393" font-size="26" text-anchor="middle" textLength="283" lengthAdjust="spacingAndGlyphs">Flattened Relation Vector</text>
<line x1="1413" y1="1397" x2="1697" y2="1397" stroke="#000" stroke-width="2"/>
<text class="mb" x="1737" y="1392" font-size="28">Y<tspan font-size="20" dy="7">align</tspan></text>
<text class="sm" x="1555" y="1439" font-size="26" text-anchor="middle" textLength="276" lengthAdjust="spacingAndGlyphs">Predicted Relation Logits</text>
<line x1="1417" y1="1443" x2="1693" y2="1443" stroke="#000" stroke-width="2"/>
<text class="mb" x="1737" y="1440" font-size="28">p<tspan font-size="20" dy="5">align</tspan></text>
<text class="mb" x="1390" y="1487" font-size="30">L<tspan font-size="20" dy="7">te</tspan><tspan dy="-7"> = CrossEntropy(p</tspan><tspan font-size="20" dy="7">align</tspan><tspan dy="-7">, Y</tspan><tspan font-size="20" dy="7">align</tspan><tspan dy="-7">)</tspan></text>

<!-- student encoder -->
<rect x="1951" y="333" width="91" height="1003" rx="20" fill="#f3d0cf"/>
<text class="vt" font-size="40" transform="translate(1982,577) rotate(90)" textLength="523" lengthAdjust="spacingAndGlyphs">Student Joint-Grained Encoder</text>

<!-- pipes -->
<path d="M2188,1039 L2188,875 Q2188,857 2206,857 L2392,857 L2392,768 L2377,768 L2407,707 L2438,768 L2422,768 L2422,875 Q2422,888 2408,888 L2219,888 L2219,1039 Z" fill="#c0c6d1"/>
<path d="M2188,641 L2188,800 Q2188,818 2206,818 L2392,818 L2392,902 L2376,902 L2407,963 L2437,902 L2422,902 L2422,800 Q2422,787 2405,787 L2219,787 L2219,641 Z" fill="#d5d0e2"/>
<rect x="2392" y="787" width="30" height="101" fill="#a7a9bf"/>

<!-- JG columns -->
<rect class="dash" x="2148" y="359" width="110" height="282" rx="14"/>
<rect class="dash2" x="2148" y="1039" width="110" height="280" rx="14"/>
<g>
<rect class="tb" x="2184" y="393" width="40" height="40"/><text class="m" x="2191" y="423">t̂<tspan font-size="18" dy="6">1</tspan></text>
<rect class="tb" x="2184" y="454" width="40" height="39"/><text class="m" x="2191" y="484">t̂<tspan font-size="18" dy="6">2</tspan></text>
<text class="dots" x="2196" y="540">⋮</text>
<rect class="tb" x="2184" y="572" width="40" height="39"/><text class="m" x="2191" y="602">t̂<tspan font-size="18" dy="6">k</tspan></text>
<rect class="eh" x="2184" y="1070" width="40" height="40"/><text class="m" x="2187" y="1101">Ê<tspan font-size="18" dy="6">1</tspan></text>
<rect class="eh" x="2184" y="1123" width="40" height="40"/><text class="m" x="2187" y="1154">Ê<tspan font-size="18" dy="6">2</tspan></text>
<text class="dots" x="2196" y="1220">⋮</text>
<rect class="eh" x="2184" y="1250" width="40" height="39"/><text class="m" x="2187" y="1281">Ê<tspan font-size="18" dy="6">n</tspan></text>
</g>

<!-- decoders -->
<rect x="2361" y="269" width="92" height="435" rx="18" fill="#deeceb"/>
<rect x="2360" y="963" width="91" height="435" rx="18" fill="#a9cbc8"/>
<text class="vt" font-size="38" transform="translate(2394,312) rotate(90)" textLength="352" lengthAdjust="spacingAndGlyphs">Student Token Decoder</text>
<text class="vt" font-size="38" transform="translate(2393,1008) rotate(90)" textLength="349" lengthAdjust="spacingAndGlyphs">Student Entity Decoder</text>

<!-- decoder outputs -->
<g>
<rect class="tb" x="2560" y="393" width="39" height="40"/><text class="m" x="2567" y="423">t<tspan font-size="18" dy="6">1</tspan></text>
<rect class="tb" x="2560" y="453" width="39" height="40"/><text class="m" x="2567" y="483">t<tspan font-size="18" dy="6">2</tspan></text>
<text class="dots" x="2571" y="540">⋮</text>
<rect class="tb" x="2560" y="573" width="39" height="38"/><text class="m" x="2567" y="602">t<tspan font-size="18" dy="6">k</tspan></text>
<rect class="eh" x="2560" y="1071" width="39" height="39"/><text class="m" x="2562" y="1101">E<tspan font-size="18" dy="6">1</tspan></text>
<rect class="eh" x="2560" y="1132" width="39" height="39"/><text class="m" x="2562" y="1162">E<tspan font-size="18" dy="6">2</tspan></text>
<text class="dots" x="2571" y="1220">⋮</text>
<rect class="eh" x="2560" y="1251" width="39" height="38"/><text class="m" x="2562" y="1281">E<tspan font-size="18" dy="6">n</tspan></text>
</g>

<!-- student classifiers -->
<rect x="2689" y="388" width="48" height="229" rx="10" fill="#c5d9f1"/>
<rect x="2685" y="1061" width="50" height="229" rx="10" fill="#c5d9f1"/>
<text class="vt" font-size="30" transform="translate(2702,445) rotate(90)" textLength="115" lengthAdjust="spacingAndGlyphs">Classifier</text>
<text class="vt" font-size="30" transform="translate(2700,1118) rotate(90)" textLength="115" lengthAdjust="spacingAndGlyphs">Classifier</text>

<!-- student logits -->
<g>
<rect class="sp" x="2830" y="391" width="37" height="39"/><text class="pl" x="2834" y="417">p<tspan font-size="15" dy="6">t</tspan><tspan font-size="11" dy="4">1</tspan></text>
<rect class="sp" x="2830" y="453" width="37" height="39"/><text class="pl" x="2834" y="479">p<tspan font-size="15" dy="6">t</tspan><tspan font-size="11" dy="4">2</tspan></text>
<text class="dots" x="2842" y="540">⋮</text>
<rect class="sp" x="2830" y="573" width="37" height="38"/><text class="pl" x="2834" y="599">p<tspan font-size="15" dy="6">t</tspan><tspan font-size="11" dy="4">k</tspan></text>
<rect class="so" x="2830" y="1070" width="37" height="39"/><text class="pl" x="2832" y="1096">p<tspan font-size="15" dy="6">E</tspan><tspan font-size="11" dy="4">1</tspan></text>
<rect class="so" x="2830" y="1132" width="37" height="39"/><text class="pl" x="2832" y="1158">p<tspan font-size="15" dy="6">E</tspan><tspan font-size="11" dy="4">2</tspan></text>
<text class="dots" x="2842" y="1220">⋮</text>
<rect class="so" x="2830" y="1248" width="37" height="39"/><text class="pl" x="2832" y="1274">p<tspan font-size="15" dy="6">E</tspan><tspan font-size="11" dy="4">n</tspan></text>
</g>

<!-- Fine-grained KD -->
<line class="gl" x1="2995" y1="236" x2="3122" y2="236"/>
<text class="tt" x="3126" y="251" textLength="511" lengthAdjust="spacingAndGlyphs">Fine-grained Knowledge Distilling</text>
<line class="gl" x1="3640" y1="242" x2="3756" y2="242"/>
<rect x="2974" y="329" width="806" height="441" fill="#fff" stroke="#7f7599" stroke-width="4"/>
<rect x="2980" y="335" width="794" height="429" fill="none" stroke="#9a93b0" stroke-width="1.5"/>
<text class="tt" x="3015" y="373" font-size="28" textLength="282" lengthAdjust="spacingAndGlyphs">Fine-grained Level Logits</text>
<line x1="3015" y1="377" x2="3297" y2="377" stroke="#000" stroke-width="2.5"/>
<rect class="dash" x="3041" y="416" width="233" height="81" rx="14"/>
<rect x="3090" y="404" width="136" height="24" fill="#fff"/>
<text class="sm" x="3158" y="425" textLength="136" lengthAdjust="spacingAndGlyphs" text-anchor="middle" font-weight="bold">Student Logits</text>
<rect class="sp" x="3067" y="441" width="37" height="42"/><text class="pl" x="3071" y="468">p<tspan font-size="14" dy="6">t</tspan><tspan font-size="10" dy="4">1</tspan></text>
<rect class="sp" x="3126" y="441" width="38" height="42"/><text class="pl" x="3130" y="468">p<tspan font-size="14" dy="6">t</tspan><tspan font-size="10" dy="4">2</tspan></text>
<text class="dots" x="3181" y="466" font-size="18">···</text>
<rect class="sp" x="3215" y="441" width="38" height="42"/><text class="pl" x="3219" y="468">p<tspan font-size="14" dy="6">t</tspan><tspan font-size="10" dy="4">k</tspan></text>
<rect class="dash" x="3041" y="581" width="233" height="154" rx="16"/>
<rect x="3084" y="570" width="150" height="24" fill="#fff"/>
<text class="sm" x="3160" y="590" textLength="150" lengthAdjust="spacingAndGlyphs" text-anchor="middle" font-weight="bold">Teachers Logits</text>
<g>
<rect class="tp" x="3066" y="611" width="38" height="40"/><text class="pl" x="3069" y="637" font-size="24">p<tspan font-size="13" dy="6">t</tspan><tspan font-size="9" dy="-7">1</tspan><tspan font-size="9" dx="-5" dy="9">1</tspan></text>
<rect class="tp" x="3125" y="611" width="38" height="40"/><text class="pl" x="3128" y="637" font-size="24">p<tspan font-size="13" dy="6">t</tspan><tspan font-size="9" dy="-7">1</tspan><tspan font-size="9" dx="-5" dy="9">2</tspan></text>
<text class="dots" x="3181" y="636" font-size="18">···</text>
<rect class="tp" x="3214" y="611" width="38" height="40"/><text class="pl" x="3217" y="637" font-size="24">p<tspan font-size="13" dy="6">t</tspan><tspan font-size="9" dy="-7">1</tspan><tspan font-size="9" dx="-5" dy="9">k</tspan></text>
<rect class="tp" x="3065" y="679" width="38" height="40"/><text class="pl" x="3068" y="705" font-size="24">p<tspan font-size="13" dy="6">t</tspan><tspan font-size="9" dy="-7">2</tspan><tspan font-size="9" dx="-5" dy="9">1</tspan></text>
<rect class="tp" x="3124" y="679" width="38" height="40"/><text class="pl" x="3127" y="705" font-size="24">p<tspan font-size="13" dy="6">t</tspan><tspan font-size="9" dy="-7">2</tspan><tspan font-size="9" dx="-5" dy="9">2</tspan></text>
<text class="dots" x="3180" y="704" font-size="18">···</text>
<rect class="tp" x="3212" y="679" width="38" height="40"/><text class="pl" x="3215" y="705" font-size="24">p<tspan font-size="13" dy="6">t</tspan><tspan font-size="9" dy="-7">2</tspan><tspan font-size="9" dx="-5" dy="9">k</tspan></text>
</g>
<text class="or" x="3524" y="444" text-anchor="middle" textLength="163" lengthAdjust="spacingAndGlyphs">Similarity Loss</text>
<line x1="3405" y1="447" x2="3644" y2="447" stroke="#c55a11" stroke-width="2.5"/>
<text class="mb" x="3525" y="497" font-size="26" text-anchor="middle">L<tspan font-size="17" dy="6">sim</tspan><tspan dy="-6"> = −CosSim(p</tspan><tspan font-size="17" dy="6">t1</tspan><tspan dy="-6"> , p</tspan><tspan font-size="17" dy="6">t</tspan><tspan font-size="12" dy="-8">1</tspan><tspan font-size="12" dx="-6" dy="12">1</tspan><tspan dy="-10">)</tspan></text>
<text class="or" x="3529" y="647" text-anchor="middle" textLength="155" lengthAdjust="spacingAndGlyphs">Distilling Loss</text>
<line x1="3414" y1="650" x2="3644" y2="650" stroke="#c55a11" stroke-width="2.5"/>
<text class="mb" x="3533" y="697" font-size="26" text-anchor="middle">L<tspan font-size="17" dy="6">distil</tspan><tspan dy="-6"> = MSE(p</tspan><tspan font-size="17" dy="6">t1</tspan><tspan dy="-6"> , p</tspan><tspan font-size="17" dy="6">t</tspan><tspan font-size="12" dy="-8">1</tspan><tspan font-size="12" dx="-6" dy="12">1</tspan><tspan dy="-10">)</tspan></text>

<!-- Coarse-grained KD -->
<line class="gl" x1="2995" y1="876" x2="3100" y2="876"/>
<text class="tt" x="3104" y="891" font-size="35" textLength="552" lengthAdjust="spacingAndGlyphs">Coarse-grained Knowledge Distilling</text>
<line class="gl" x1="3660" y1="884" x2="3756" y2="884"/>
<rect x="2974" y="957" width="806" height="441" fill="#fff" stroke="#7f7599" stroke-width="4"/>
<rect x="2980" y="963" width="794" height="429" fill="none" stroke="#9a93b0" stroke-width="1.5"/>
<text class="tt" x="3011" y="1003" font-size="28" textLength="313" lengthAdjust="spacingAndGlyphs">Coarse-grained Level Logits</text>
<line x1="3011" y1="1007" x2="3324" y2="1007" stroke="#000" stroke-width="2.5"/>
<rect x="3047" y="1049" width="230" height="80" rx="14" fill="#edeff5" stroke="#8497b0" stroke-width="4" stroke-dasharray="12 7"/>
<rect x="3096" y="1036" width="138" height="24" fill="#fff"/>
<text class="sm" x="3165" y="1055" textLength="136" lengthAdjust="spacingAndGlyphs" text-anchor="middle" font-weight="bold">Student Logits</text>
<rect class="so" x="3071" y="1074" width="37" height="40"/><text class="pl" x="3073" y="1100">p<tspan font-size="14" dy="6">E</tspan><tspan font-size="10" dy="4">1</tspan></text>
<rect class="so" x="3132" y="1074" width="37" height="40"/><text class="pl" x="3134" y="1100">p<tspan font-size="14" dy="6">E</tspan><tspan font-size="10" dy="4">2</tspan></text>
<text class="dots" x="3186" y="1098" font-size="18">···</text>
<rect class="so" x="3219" y="1074" width="38" height="40"/><text class="pl" x="3221" y="1100">p<tspan font-size="14" dy="6">E</tspan><tspan font-size="10" dy="4">n</tspan></text>
<rect x="3047" y="1212" width="229" height="153" rx="16" fill="#edeff5" stroke="#8497b0" stroke-width="4" stroke-dasharray="12 7"/>
<rect x="3090" y="1200" width="152" height="24" fill="#fff"/>
<text class="sm" x="3166" y="1220" textLength="150" lengthAdjust="spacingAndGlyphs" text-anchor="middle" font-weight="bold">Teachers Logits</text>
<g>
<rect class="so" x="3070" y="1243" width="38" height="38"/><text class="pl" x="3072" y="1268" font-size="24">p<tspan font-size="12" dy="6">E</tspan><tspan font-size="9" dy="-7">1</tspan><tspan font-size="9" dx="-5" dy="9">1</tspan></text>
<rect class="so" x="3131" y="1243" width="38" height="38"/><text class="pl" x="3133" y="1268" font-size="24">p<tspan font-size="12" dy="6">E</tspan><tspan font-size="9" dy="-7">1</tspan><tspan font-size="9" dx="-5" dy="9">2</tspan></text>
<text class="dots" x="3186" y="1267" font-size="18">···</text>
<rect class="so" x="3218" y="1243" width="38" height="38"/><text class="pl" x="3220" y="1268" font-size="24">p<tspan font-size="12" dy="6">E</tspan><tspan font-size="9" dy="-7">1</tspan><tspan font-size="9" dx="-5" dy="9">k</tspan></text>
<rect class="so" x="3068" y="1310" width="38" height="39"/><text class="pl" x="3070" y="1336" font-size="24">p<tspan font-size="12" dy="6">E</tspan><tspan font-size="9" dy="-7">2</tspan><tspan font-size="9" dx="-5" dy="9">1</tspan></text>
<rect class="so" x="3129" y="1310" width="38" height="39"/><text class="pl" x="3131" y="1336" font-size="24">p<tspan font-size="12" dy="6">E</tspan><tspan font-size="9" dy="-7">2</tspan><tspan font-size="9" dx="-5" dy="9">2</tspan></text>
<text class="dots" x="3186" y="1334" font-size="18">···</text>
<rect class="so" x="3218" y="1310" width="38" height="39"/><text class="pl" x="3220" y="1336" font-size="24">p<tspan font-size="12" dy="6">E</tspan><tspan font-size="9" dy="-7">2</tspan><tspan font-size="9" dx="-5" dy="9">k</tspan></text>
</g>
<text class="or" x="3531" y="1074" text-anchor="middle" textLength="163" lengthAdjust="spacingAndGlyphs">Similarity Loss</text>
<line x1="3411" y1="1076" x2="3649" y2="1076" stroke="#c55a11" stroke-width="2.5"/>
<text class="mb" x="3531" y="1127" font-size="26" text-anchor="middle">L<tspan font-size="17" dy="6">sim</tspan><tspan dy="-6"> = −CosSim(p</tspan><tspan font-size="17" dy="6">E1</tspan><tspan dy="-6"> , p</tspan><tspan font-size="17" dy="6">E</tspan><tspan font-size="12" dy="-8">1</tspan><tspan font-size="12" dx="-6" dy="12">1</tspan><tspan dy="-10">)</tspan></text>
<text class="or" x="3525" y="1274" text-anchor="middle" textLength="155" lengthAdjust="spacingAndGlyphs">Distilling Loss</text>
<line x1="3409" y1="1276" x2="3640" y2="1276" stroke="#c55a11" stroke-width="2.5"/>
<text class="mb" x="3525" y="1327" font-size="26" text-anchor="middle">L<tspan font-size="17" dy="6">distil</tspan><tspan dy="-6"> = MSE(p</tspan><tspan font-size="17" dy="6">E1</tspan><tspan dy="-6"> , p</tspan><tspan font-size="17" dy="6">E</tspan><tspan font-size="12" dy="-8">1</tspan><tspan font-size="12" dx="-6" dy="12">1</tspan><tspan dy="-10">)</tspan></text>
</svg>
</body></html>
